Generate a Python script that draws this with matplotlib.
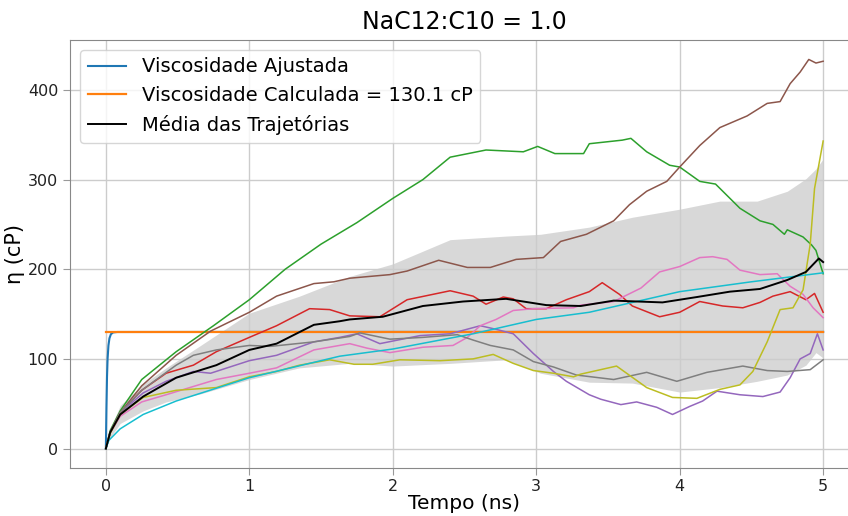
import matplotlib
matplotlib.use('Agg')
import matplotlib.pyplot as plt

# viscosidade calculada (cP)
ETA_CALC = 130.1

# curva ajustada (sobe rapido ate o valor calculado)
t_fit = [0.0, 0.004, 0.008, 0.012, 0.018, 0.025, 0.035, 0.05, 0.08, 1.0, 5.0]
eta_fit = [0.0, 45.0, 80.0, 100.0, 115.0, 123.0, 127.5, 129.5, 130.0, 130.1, 130.1]

# trajetorias individuais
t_green = [0, 0.03, 0.1, 0.25, 0.49, 0.75, 1.0, 1.25, 1.5, 1.75, 2.0, 2.21, 2.4, 2.65,
           2.91, 3.01, 3.13, 3.33, 3.37, 3.6, 3.66, 3.77, 3.93, 4.0, 4.14, 4.25, 4.42,
           4.56, 4.65, 4.73, 4.75, 4.86, 4.92, 4.95, 5.0]
eta_green = [0, 20, 42, 77, 108, 137, 166, 200, 228, 252, 279, 300, 325, 333,
             331, 337, 329, 329, 340, 344, 346, 331, 316, 314, 298, 295, 268,
             254, 250, 239, 244, 236, 227, 221, 195]

t_red = [0, 0.03, 0.1, 0.25, 0.42, 0.61, 0.77, 1.0, 1.19, 1.42, 1.56, 1.7, 1.91, 2.1,
         2.4, 2.56, 2.65, 2.77, 2.84, 2.93, 3.07, 3.21, 3.37, 3.46, 3.58, 3.67, 3.86,
         4.0, 4.14, 4.3, 4.44, 4.56, 4.65, 4.77, 4.88, 4.94, 5.0]
eta_red = [0, 18, 40, 65, 84, 93, 108, 124, 137, 156, 155, 148, 147, 166,
           176, 170, 161, 169, 167, 156, 156, 166, 175, 185, 172, 159, 147,
           152, 164, 159, 157, 163, 170, 175, 166, 173, 152]

t_purple = [0, 0.03, 0.1, 0.26, 0.42, 0.61, 0.73, 1.0, 1.19, 1.45, 1.63, 1.75, 1.91,
            2.19, 2.4, 2.61, 2.72, 2.84, 2.98, 3.12, 3.21, 3.37, 3.45, 3.59, 3.7,
            3.84, 3.95, 4.07, 4.16, 4.26, 4.42, 4.58, 4.7, 4.77, 4.84, 4.91, 4.96, 5.0]
eta_purple = [0, 18, 40, 62, 75, 86, 84, 98, 104, 119, 124, 128, 117,
              126, 128, 137, 133, 128, 106, 86, 75, 60, 55, 49, 52,
              46, 38, 47, 53, 64, 60, 58, 63, 79, 100, 106, 128, 110]

t_brown = [0, 0.03, 0.1, 0.25, 0.49, 0.73, 1.0, 1.19, 1.45, 1.59, 1.7, 1.98, 2.1, 2.32,
           2.52, 2.68, 2.86, 3.05, 3.17, 3.35, 3.54, 3.65, 3.77, 3.91, 4.0, 4.14, 4.28,
           4.47, 4.61, 4.7, 4.77, 4.84, 4.9, 4.95, 5.0]
eta_brown = [0, 18, 40, 70, 104, 131, 152, 170, 184, 186, 190, 194, 198, 210,
             202, 202, 211, 213, 231, 239, 254, 272, 287, 298, 314, 338, 358,
             371, 385, 387, 407, 420, 434, 430, 432]

t_pink = [0, 0.03, 0.1, 0.25, 0.42, 0.77, 1.0, 1.19, 1.45, 1.7, 1.82, 1.98, 2.21, 2.42,
          2.52, 2.61, 2.72, 2.84, 2.98, 3.26, 3.31, 3.54, 3.73, 3.86, 4.0, 4.14, 4.23,
          4.33, 4.42, 4.56, 4.68, 4.77, 4.86, 4.93, 5.0]
eta_pink = [0, 17, 36, 52, 60, 77, 84, 90, 110, 117, 112, 107, 113, 115,
            124, 137, 144, 154, 156, 157, 160, 164, 179, 197, 203, 213, 214,
            211, 199, 194, 195, 181, 172, 157, 146]

t_gray = [0, 0.03, 0.1, 0.25, 0.49, 0.61, 0.77, 1.0, 1.15, 1.45, 1.7, 1.77, 1.98, 2.21,
          2.45, 2.56, 2.68, 2.84, 2.98, 3.12, 3.28, 3.54, 3.77, 3.98, 4.19, 4.44, 4.61,
          4.75, 4.91, 5.0]
eta_gray = [0, 18, 40, 65, 93, 104, 110, 115, 114, 119, 125, 129, 122, 124,
            127, 121, 115, 110, 97, 91, 82, 77, 85, 75, 85, 92, 87,
            86, 88, 99]

t_olive = [0, 0.03, 0.1, 0.26, 0.49, 0.77, 1.0, 1.19, 1.35, 1.56, 1.73, 1.86, 2.05, 2.33,
           2.56, 2.7, 2.84, 2.98, 3.12, 3.26, 3.31, 3.56, 3.77, 3.95, 4.12, 4.28, 4.42,
           4.51, 4.61, 4.7, 4.79, 4.86, 4.91, 4.94, 5.0]
eta_olive = [0, 17, 38, 57, 65, 68, 80, 86, 93, 99, 94, 94, 99, 98,
             100, 105, 95, 87, 84, 80, 83, 92, 68, 57, 56, 66, 71,
             86, 119, 155, 157, 177, 228, 290, 343]

t_cyan = [0, 0.02, 0.1, 0.26, 0.49, 1.0, 1.63, 2.0, 2.56, 3.0, 3.37, 4.0, 4.5, 5.0]
eta_cyan = [0, 9, 22, 38, 53, 79, 103, 111, 128, 144, 152, 175, 186, 196]

# media das trajetorias
t_mean = [0, 0.03, 0.1, 0.26, 0.49, 0.77, 1.0, 1.19, 1.45, 1.63, 1.7, 1.93, 2.21, 2.49,
          2.79, 3.07, 3.31, 3.54, 3.88, 4.12, 4.35, 4.56, 4.75, 4.88, 4.97, 5.0]
eta_mean = [0, 18, 38, 58, 79, 93, 110, 117, 138, 142, 144, 147, 159, 164,
            167, 160, 159, 165, 163, 169, 175, 178, 188, 197, 212, 208]

# faixa de desvio padrao
t_band = [0, 0.03, 0.1, 0.26, 0.42, 0.66, 1.0, 1.35, 1.7, 2.0, 2.4, 2.79, 3.03, 3.37,
          3.67, 4.0, 4.28, 4.54, 4.75, 4.88, 4.95, 5.0]
eta_upper = [0, 22, 48, 72, 90, 115, 151, 170, 192, 206, 233, 237, 239, 247,
             258, 267, 276, 276, 287, 301, 312, 323]
eta_lower = [0, 12, 28, 42, 52, 61, 77, 90, 95, 92, 95, 99, 84, 74,
             73, 63, 68, 75, 82, 93, 107, 101]

trajetorias = [
    (t_green, eta_green, 'tab:green'),
    (t_red, eta_red, 'tab:red'),
    (t_purple, eta_purple, 'tab:purple'),
    (t_brown, eta_brown, 'tab:brown'),
    (t_pink, eta_pink, 'tab:pink'),
    (t_gray, eta_gray, 'tab:gray'),
    (t_olive, eta_olive, 'tab:olive'),
    (t_cyan, eta_cyan, 'tab:cyan'),
]


def plot_viscosidade():
    fig = plt.figure(figsize=(8.48, 5.16), dpi=100)
    # eixo um pouco maior que a figura, a direita fica cortada como no original
    ax = fig.add_axes([70 / 848, 48 / 516, 789 / 848, 428 / 516])

    ax.plot(t_fit, eta_fit, color='tab:blue', lw=1.5, label='Viscosidade Ajustada')
    ax.plot([0, 5], [ETA_CALC, ETA_CALC], color='tab:orange', lw=1.6,
            label='Viscosidade Calculada = %.1f cP' % ETA_CALC)

    for t, eta, cor in trajetorias:
        ax.plot(t, eta, color=cor, lw=1.1)

    ax.plot(t_mean, eta_mean, color='black', lw=1.4, label='Média das Trajetórias')
    ax.fill_between(t_band, eta_lower, eta_upper, color='gray', alpha=0.3,
                    lw=0, zorder=0.5)

    ax.set_title('NaC12:C10 = 1.0', fontsize=17, pad=8)
    ax.set_xlabel('Tempo (ns)', fontsize=14.5, labelpad=0)
    ax.set_ylabel('η (cP)', fontsize=15, labelpad=2)

    ax.set_xticks([0, 1, 2, 3, 4, 5])
    ax.set_yticks([0, 100, 200, 300, 400])
    ax.tick_params(labelsize=11.5, color='#999999', length=5, labelcolor='#222222')
    ax.tick_params(axis='x', pad=3)

    ax.grid(color='#cccccc', linewidth=1)
    ax.set_axisbelow(True)
    for s in ax.spines.values():
        s.set_color('#888888')

    ax.legend(loc='upper left', fontsize=14, handlelength=2.0)

    fig.savefig('out.png', dpi=100)


if __name__ == '__main__':
    plot_viscosidade()
